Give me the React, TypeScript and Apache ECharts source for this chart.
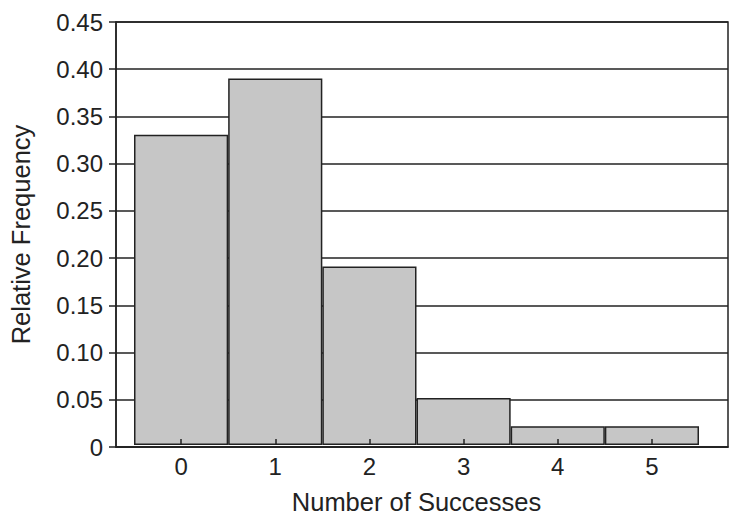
import React, { useEffect, useRef } from "react";
import * as echarts from "echarts";

const categories = ["0", "1", "2", "3", "4", "5"];
const frequencies = [0.33, 0.39, 0.19, 0.05, 0.02, 0.02];
const yMin = 0;
const yMax = 0.45;
const yStep = 0.05;

const FONT = "'Liberation Sans', Arial, Helvetica, sans-serif";
const INK = "#222222";

export default function App() {
  const ref = useRef<HTMLDivElement>(null);
  useEffect(() => {
    if (!ref.current) return;
    const chart = echarts.init(ref.current, null, { renderer: "svg" });
    chart.setOption({
      animation: false,
      backgroundColor: "#ffffff",
      textStyle: { fontFamily: FONT, color: INK },
      grid: [
        {
          left: 107,
          right: 10,
          top: 22,
          bottom: 73,
          show: true,
          borderColor: INK,
          borderWidth: 1.5,
          backgroundColor: "transparent",
        },
        { left: 134, right: 39, top: 22, bottom: 73 },
      ],
      xAxis: [
        {
          gridIndex: 0,
          type: "value",
          min: 0,
          max: 1,
          axisLine: { show: true, lineStyle: { color: INK, width: 1.5 } },
          axisTick: { show: false },
          axisLabel: { show: false },
          splitLine: { show: false },
        },
        {
          gridIndex: 1,
          type: "category",
          data: categories,
          boundaryGap: true,
          z: 10,
          name: "Number of Successes",
          nameLocation: "middle",
          nameGap: 44,
          nameTextStyle: { fontSize: 25.5, color: INK, fontFamily: FONT },
          axisLine: { show: false },
          axisTick: {
            show: true,
            inside: true,
            length: 6,
            alignWithLabel: true,
            lineStyle: { color: INK, width: 1.5 },
          },
          axisLabel: { fontSize: 24, color: INK, margin: 9, fontFamily: FONT },
          splitLine: { show: false },
        },
      ],
      yAxis: [
        {
          gridIndex: 0,
          type: "value",
          min: yMin,
          max: yMax,
          interval: yStep,
          name: "Relative Frequency",
          nameLocation: "middle",
          nameGap: 82,
          nameTextStyle: { fontSize: 25.5, color: INK, fontFamily: FONT },
          axisLine: { show: true, lineStyle: { color: INK, width: 1.5 } },
          axisTick: { show: true, length: 7, lineStyle: { color: INK, width: 1.5 } },
          axisLabel: {
            fontSize: 24,
            color: INK,
            margin: 13,
            fontFamily: FONT,
            formatter: (v: number) => (v === 0 ? "0" : v.toFixed(2)),
          },
          splitLine: { show: true, lineStyle: { color: INK, width: 1.5 } },
        },
        {
          gridIndex: 1,
          type: "value",
          min: yMin,
          max: yMax,
          show: false,
        },
      ],
      series: [
        {
          type: "bar",
          xAxisIndex: 1,
          yAxisIndex: 1,
          data: frequencies,
          barCategoryGap: "0%",
          itemStyle: { color: "#c6c6c6", borderColor: INK, borderWidth: 1.5 },
        },
      ],
    });
    return () => chart.dispose();
  }, []);
  return (
    <div
      ref={ref}
      style={{ position: "absolute", left: 0, top: 0, width: 738, height: 520, background: "#fff" }}
    />
  );
}
